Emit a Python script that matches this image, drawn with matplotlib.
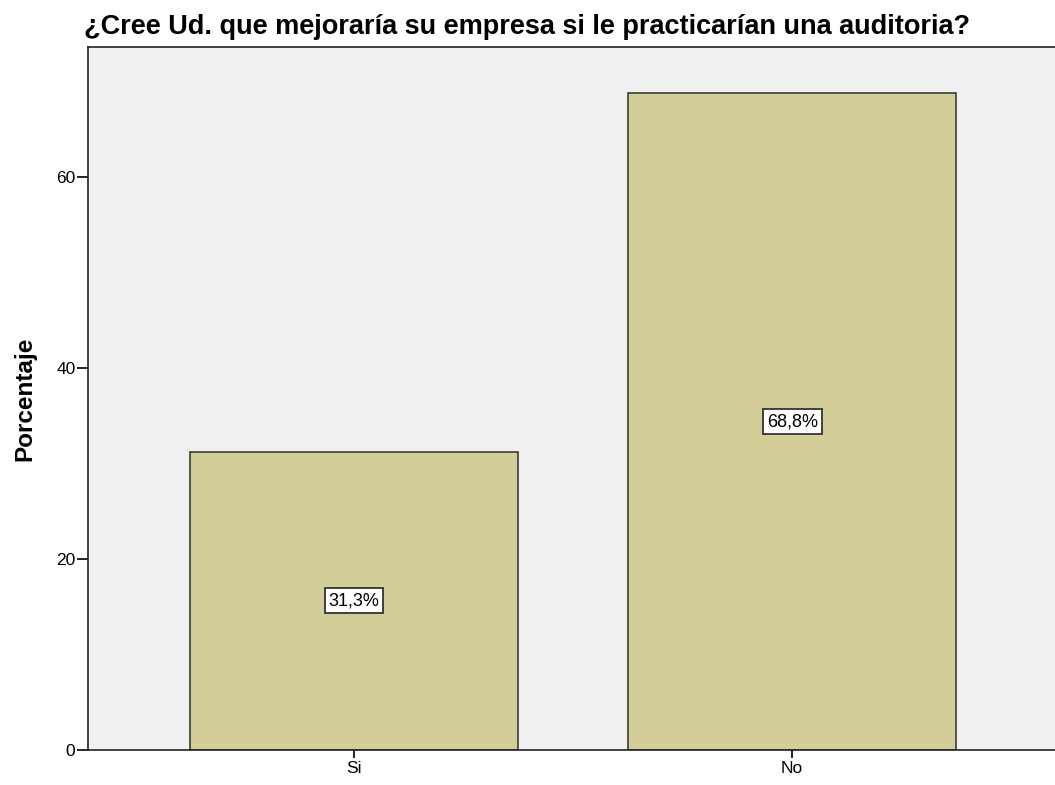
import matplotlib.pyplot as plt
import numpy as np

plt.rcParams['font.family'] = ['Liberation Sans', 'DejaVu Sans']

categorias = ['Si', 'No']
porcentajes = [31.25, 68.75]
etiquetas = ['31,3%', '68,8%']

fig = plt.figure(figsize=(10.55, 7.85), dpi=100)
ax = fig.add_axes([0.0834, 0.0446, 0.9196, 0.8954])
ax.set_facecolor('#f0f0f0')

x = np.arange(len(categorias))
barras = ax.bar(x, porcentajes, width=0.748, color='#d3ce97',
                edgecolor='#3c3c3c', linewidth=1.2, zorder=2)

for xi, v, txt in zip(x, porcentajes, etiquetas):
    ax.text(xi, v / 2, txt, ha='center', va='center', fontsize=13,
            bbox=dict(boxstyle='square,pad=0.22', facecolor='white',
                      edgecolor='#333333', linewidth=1.3), zorder=3)

ax.set_xlim(-0.607, 1.607)
ax.set_ylim(0, 73.6)
ax.set_xticks(x)
ax.set_xticklabels(categorias, fontsize=12.5)
ax.set_yticks([0, 20, 40, 60])
ax.tick_params(axis='y', labelsize=12.5, length=8, width=1.2, pad=1)
ax.tick_params(axis='x', length=6, width=1.2, pad=2)
ax.set_ylabel('Porcentaje', fontsize=17.5, fontweight='bold', labelpad=14)

for s in ['left', 'bottom', 'top']:
    ax.spines[s].set_linewidth(1.2)
    ax.spines[s].set_color('#222222')
ax.spines['right'].set_visible(False)

fig.text(0.5, 0.966, '¿Cree Ud. que mejoraría su empresa si le practicarían una auditoria?',
         ha='center', va='center', fontsize=19.5, fontweight='bold')

fig.savefig('out.png', dpi=100)
